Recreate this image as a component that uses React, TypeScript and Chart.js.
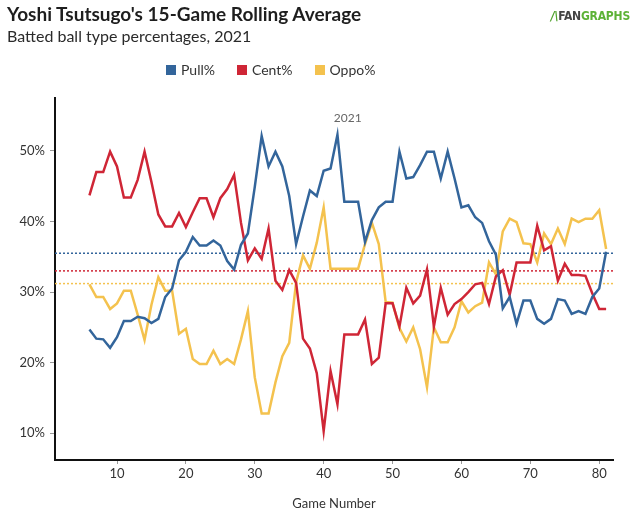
import React, { useEffect, useRef } from "react";
import { Chart, registerables } from "chart.js";

Chart.register(...registerables);

// game numbers covered by the 15-game rolling window
const games = [
  6, 7, 8, 9, 10, 11, 12, 13, 14, 15, 16, 17, 18, 19, 20, 21, 22, 23, 24, 25,
  26, 27, 28, 29, 30, 31, 32, 33, 34, 35, 36, 37, 38, 39, 40, 41, 42, 43, 44, 45,
  46, 47, 48, 49, 50, 51, 52, 53, 54, 55, 56, 57, 58, 59, 60, 61, 62, 63, 64, 65,
  66, 67, 68, 69, 70, 71, 72, 73, 74, 75, 76, 77, 78, 79, 80, 81,
];

const pullPct = [
  24.7, 23.4, 23.3, 22.1, 23.6, 25.9, 25.9, 26.5, 26.3, 25.6, 26.2, 29.3, 30.5, 34.5, 35.7, 37.8, 36.6, 36.6, 37.3, 36.6,
  34.4, 33.2, 36.7, 38.3, 44.9, 52.1, 47.8, 49.9, 47.8, 43.6, 36.8, 40.7, 44.4, 43.6, 47.2, 47.5, 52.3, 42.8, 42.8, 42.8,
  37.1, 40.2, 42.0, 42.8, 42.8, 49.9, 46.1, 46.3, 48.0, 49.9, 49.9, 46.1, 49.9, 46.1, 42.0, 42.3, 40.6, 39.8, 37.2, 35.3,
  27.7, 29.3, 25.5, 28.8, 28.8, 26.2, 25.5, 26.2, 29.0, 28.8, 26.9, 27.3, 26.9, 29.3, 30.5, 35.7,
];

const centPct = [
  43.7, 47.0, 47.0, 49.9, 47.8, 43.4, 43.4, 45.9, 49.9, 45.6, 41.0, 39.3, 39.3, 41.2, 39.2, 41.3, 43.3, 43.3, 40.6, 43.3,
  44.6, 46.6, 39.8, 34.5, 36.2, 34.7, 39.0, 31.6, 30.3, 33.1, 31.3, 23.4, 22.0, 18.5, 10.3, 18.8, 14.1, 24.0, 24.0, 24.0,
  26.1, 19.8, 20.7, 28.4, 28.4, 25.1, 30.6, 28.4, 29.5, 33.2, 25.1, 30.6, 26.8, 28.3, 29.0, 30.0, 31.1, 31.3, 28.3, 32.2,
  33.1, 29.6, 34.2, 34.2, 34.2, 39.4, 35.9, 36.5, 31.6, 34.0, 32.4, 32.4, 32.3, 29.8, 27.6, 27.6,
];

const oppoPct = [
  31.1, 29.3, 29.3, 27.6, 28.4, 30.2, 30.2, 26.8, 23.2, 28.2, 32.1, 30.2, 30.2, 24.1, 24.8, 20.5, 19.8, 19.8, 21.7, 19.8,
  20.5, 19.8, 23.3, 27.3, 17.9, 12.8, 12.8, 17.2, 20.9, 22.8, 31.4, 35.2, 33.3, 37.0, 42.0, 33.3, 33.3, 33.3, 33.3, 33.3,
  36.8, 39.8, 36.8, 28.6, 28.5, 24.9, 23.0, 25.0, 21.9, 16.5, 25.0, 22.9, 22.9, 25.0, 28.7, 27.1, 28.0, 28.5, 34.2, 32.5,
  38.6, 40.4, 39.9, 36.9, 36.8, 34.2, 38.3, 36.8, 39.0, 36.8, 40.4, 39.9, 40.4, 40.4, 41.6, 36.1,
];

// season averages (dotted lines)
const pullAvg = 35.5;
const centAvg = 33.0;
const oppoAvg = 31.2;

const xTicks = [10, 20, 30, 40, 50, 60, 70, 80];
const yTicks = [10, 20, 30, 40, 50];
const xMin = 1;
const xMax = 82;
const seasonLabel = "2021";

const BLUE = "#33659b";
const RED = "#cf2636";
const YELLOW = "#f4c24e";
const FONT = "Lato, 'Open Sans', sans-serif";

const seasonLabelPlugin = {
  id: "seasonLabel",
  afterDatasetsDraw(chart: Chart) {
    const { ctx, chartArea } = chart;
    const x = chart.scales.x;
    const mid = (games[0] + games[games.length - 1]) / 2;
    ctx.save();
    ctx.font = `12px ${FONT}`;
    ctx.fillStyle = "#666";
    ctx.textAlign = "center";
    ctx.textBaseline = "middle";
    ctx.fillText(seasonLabel, x.getPixelForValue(mid), chartArea.top + 20);
    ctx.restore();
  },
};

const toPoints = (vals: number[]) => vals.map((v, i) => ({ x: games[i], y: v }));
const avgLine = (v: number) => [
  { x: xMin, y: v },
  { x: xMax, y: v },
];

export default function App() {
  const canvasRef = useRef<HTMLCanvasElement>(null);

  useEffect(() => {
    if (!canvasRef.current) return;

    const line = (label: string, data: number[], color: string) => ({
      label,
      data: toPoints(data),
      borderColor: color,
      backgroundColor: color,
      borderWidth: 2.5,
      pointRadius: 0,
      tension: 0,
      fill: false,
      order: 1,
    });
    const dotted = (data: number, color: string) => ({
      label: "avg",
      data: avgLine(data),
      borderColor: color,
      borderWidth: 1.5,
      borderDash: [2, 2],
      pointRadius: 0,
      fill: false,
      order: 2,
    });

    const chart = new Chart(canvasRef.current, {
      type: "line",
      data: {
        datasets: [
          line("Pull%", pullPct, BLUE),
          line("Cent%", centPct, RED),
          line("Oppo%", oppoPct, YELLOW),
          dotted(pullAvg, BLUE),
          dotted(centAvg, RED),
          dotted(oppoAvg, YELLOW),
        ],
      },
      options: {
        responsive: false,
        animation: false,
        layout: { padding: { top: 98, right: 24, left: 0, bottom: 0 } },
        plugins: {
          legend: { display: false },
          tooltip: { enabled: false },
        },
        scales: {
          x: {
            type: "linear",
            min: xMin,
            max: xMax,
            afterBuildTicks: (s: any) => {
              s.ticks = xTicks.map((v) => ({ value: v }));
            },
            afterFit: (s: any) => {
              s.height = 51;
            },
            grid: { drawOnChartArea: false, drawTicks: true, tickLength: 4, tickColor: "#999" },
            border: { color: "#111", width: 2 },
            ticks: { color: "#333", font: { family: FONT, size: 13 }, padding: 2, maxRotation: 0 },
            title: {
              display: true,
              text: "Game Number",
              color: "#333",
              font: { family: FONT, size: 13 },
              padding: { top: 0, bottom: -1 },
            },
          },
          y: {
            type: "linear",
            min: 6.2,
            max: 57.5,
            afterBuildTicks: (s: any) => {
              s.ticks = yTicks.map((v) => ({ value: v }));
            },
            afterFit: (s: any) => {
              s.width = 55;
            },
            grid: { drawOnChartArea: false, drawTicks: true, tickLength: 5, tickColor: "#999" },
            border: { color: "#111", width: 2 },
            ticks: {
              color: "#333",
              font: { family: FONT, size: 13 },
              padding: 5,
              callback: (v: any) => `${v}%`,
            },
          },
        },
      },
      plugins: [seasonLabelPlugin],
    });

    return () => {
      chart.destroy();
    };
  }, []);

  const legend = [
    { label: "Pull%", color: BLUE },
    { label: "Cent%", color: RED },
    { label: "Oppo%", color: YELLOW },
  ];

  return (
    <div
      style={{
        position: "fixed",
        left: 0,
        top: 0,
        width: 637,
        height: 511,
        background: "#fff",
        fontFamily: FONT,
        color: "#222",
      }}
    >
      <canvas ref={canvasRef} width={637} height={511} style={{ position: "absolute", left: 0, top: 0 }} />

      <div style={{ position: "absolute", left: 7, top: 2, fontSize: 19, fontWeight: 700, color: "#1e1e1e" }}>
        Yoshi Tsutsugo's 15-Game Rolling Average
      </div>
      <div style={{ position: "absolute", left: 7, top: 26, fontSize: 16, color: "#2a2a2a" }}>
        Batted ball type percentages, 2021
      </div>

      {/* logo */}
      <div
        style={{
          position: "absolute",
          right: 7,
          top: 9,
          fontSize: 12,
          fontWeight: 900,
          letterSpacing: -0.2,
          fontFamily: "'DejaVu Sans Condensed', 'Liberation Sans Narrow', sans-serif",
        }}
      >
        <span style={{ color: "#4fa22c", fontStyle: "italic" }}>/\</span>
        <span style={{ color: "#444" }}>FAN</span>
        <span style={{ color: "#5cb236" }}>GRAPHS</span>
      </div>

      {/* legend */}
      <div style={{ position: "absolute", left: 166, top: 61, display: "flex", gap: 22, fontSize: 14, color: "#333" }}>
        {legend.map((l) => (
          <span key={l.label} style={{ display: "flex", alignItems: "center", gap: 5 }}>
            <span style={{ display: "inline-block", width: 10, height: 10, background: l.color }} />
            {l.label}
          </span>
        ))}
      </div>
    </div>
  );
}
